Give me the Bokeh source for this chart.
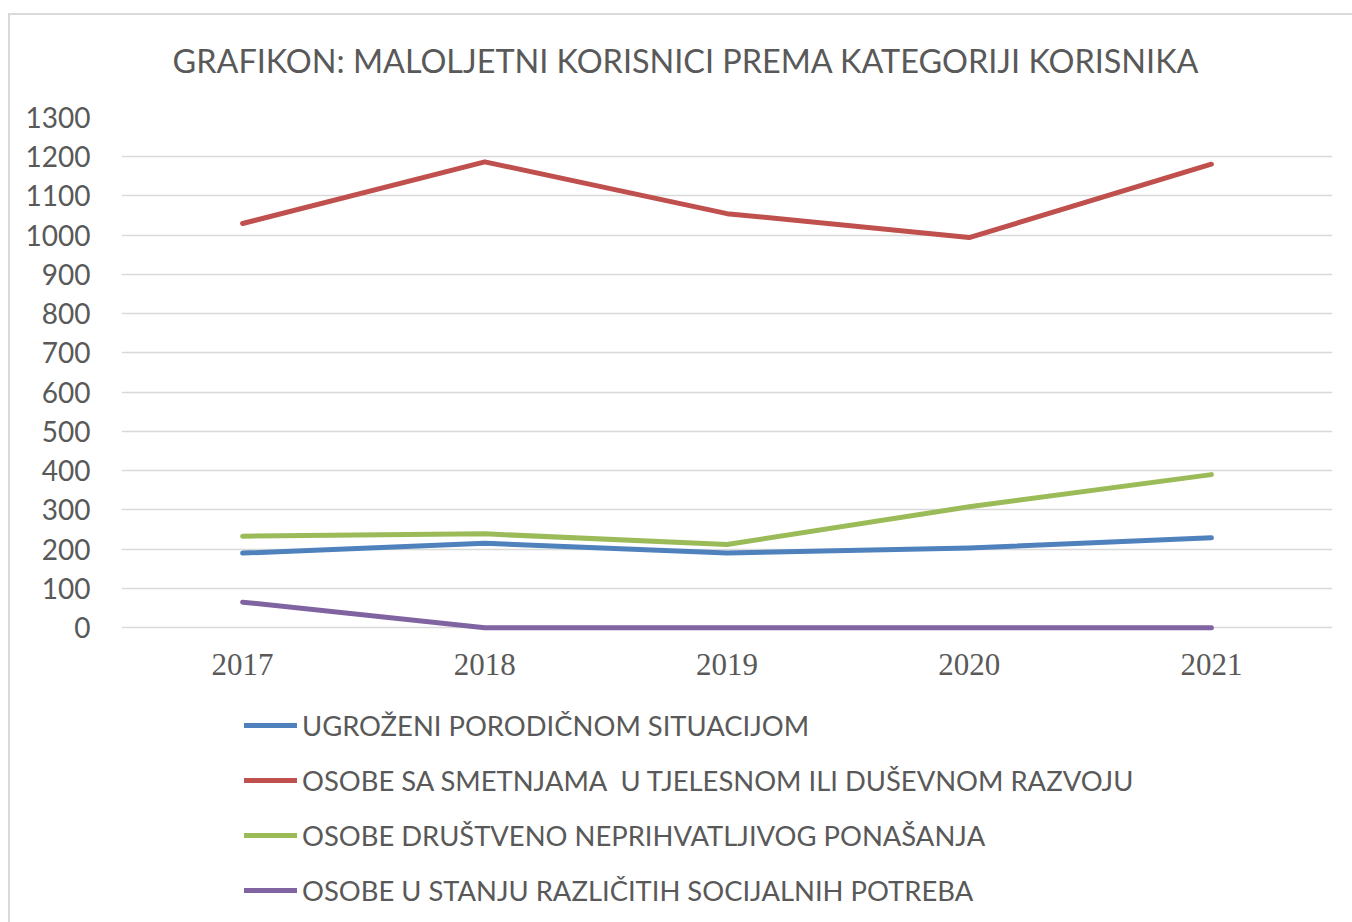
from bokeh.plotting import figure
from bokeh.layouts import column
from bokeh.models import Legend, LegendItem, Range1d, FactorRange, FixedTicker
from bokeh.embed import file_html
from bokeh.resources import INLINE

# ---- data ----
years = ["2017", "2018", "2019", "2020", "2021"]
ugrozeni = [190, 215, 190, 203, 229]
smetnje = [1030, 1187, 1055, 994, 1181]
drustveno = [233, 239, 212, 308, 390]
socijalne = [65, 0, 0, 0, 0]
series_names = [
    "UGROŽENI PORODIČNOM SITUACIJOM",
    "OSOBE SA SMETNJAMA  U TJELESNOM ILI DUŠEVNOM RAZVOJU",
    "OSOBE DRUŠTVENO NEPRIHVATLJIVOG PONAŠANJA",
    "OSOBE U STANJU RAZLIČITIH SOCIJALNIH POTREBA",
]
y_ticks = list(range(0, 1301, 100))
title_text = "GRAFIKON: MALOLJETNI KORISNICI PREMA KATEGORIJI KORISNIKA"

colors = ["#4F81BD", "#C0504D", "#9BBB59", "#8064A2"]
TXT = "#595959"
SANS = "Lato"
series = [ugrozeni, smetnje, drustveno, socijalne]

W = 1352
p = figure(
    x_range=FactorRange(*years),
    y_range=Range1d(-20, 1300),
    width=W, height=695,
    output_backend="svg", toolbar_location=None,
    min_border_left=121, min_border_right=20,
    min_border_top=117, min_border_bottom=60,
)
p.x_range.range_padding = 0
p.border_fill_alpha = 0
p.background_fill_alpha = 0

p.title.text = title_text
p.title.text_font = SANS
p.title.text_font_size = "32.4px"
p.title.text_font_style = "normal"
p.title.text_color = TXT
p.title.align = "left"
p.title.offset = 51
p.title.standoff = 76

p.outline_line_color = None
p.xgrid.grid_line_color = None
p.ygrid.grid_line_color = "#d9d9d9"
p.ygrid.grid_line_width = 1.5

p.yaxis.ticker = FixedTicker(ticks=y_ticks)
p.yaxis.axis_line_color = None
p.yaxis.major_tick_line_color = None
p.yaxis.minor_tick_line_color = None
p.yaxis.major_label_standoff = 25
p.yaxis.major_label_text_font = SANS
p.yaxis.major_label_text_font_size = "28px"
p.yaxis.major_label_text_color = TXT

p.xaxis.axis_line_color = None
p.xaxis.major_tick_line_color = None
p.xaxis.major_label_standoff = 12
p.xaxis.major_label_text_font = "Liberation Serif"
p.xaxis.major_label_text_font_size = "31px"
p.xaxis.major_label_text_color = TXT

for vals, col in zip(series, colors):
    p.line(years, vals, line_color=col, line_width=5, line_cap="round", line_join="round")

# ---- legend panel (its own canvas below the chart) ----
lg = figure(
    x_range=FactorRange(*years),
    y_range=Range1d(5000, 6000),  # keeps the legend-only line copies out of view
    width=W, height=227,
    output_backend="svg", toolbar_location=None,
    x_axis_location=None, y_axis_location=None,
    min_border_left=121, min_border_right=20, min_border_top=0, min_border_bottom=0,
)
lg.outline_line_color = None
lg.grid.grid_line_color = None
lg.border_fill_alpha = 0
lg.background_fill_alpha = 0
items = []
for name, vals, col in zip(series_names, series, colors):
    r = lg.line(years, vals, line_color=col, line_width=5, line_cap="round")
    items.append(LegendItem(label=name, renderers=[r]))

legend = Legend(
    items=items, location=(123, 15), orientation="vertical",
    label_text_font=SANS, label_text_font_size="27.4px", label_text_color=TXT,
    glyph_width=53, glyph_height=34, label_height=34, label_standoff=5,
    spacing=21, padding=0, margin=0,
    border_line_color=None, background_fill_alpha=0,
)
lg.add_layout(legend, "center")

frame_line = "linear-gradient(#d9d9d9, #d9d9d9)"
layout = column(
    p, lg, spacing=0,
    styles={
        "background": (f"{frame_line} 8px 13px / 1400px 2px no-repeat, "
                       f"{frame_line} 8px 13px / 2px 1000px no-repeat, #ffffff"),
    },
)

open("out.html", "w").write(file_html(layout, INLINE))
